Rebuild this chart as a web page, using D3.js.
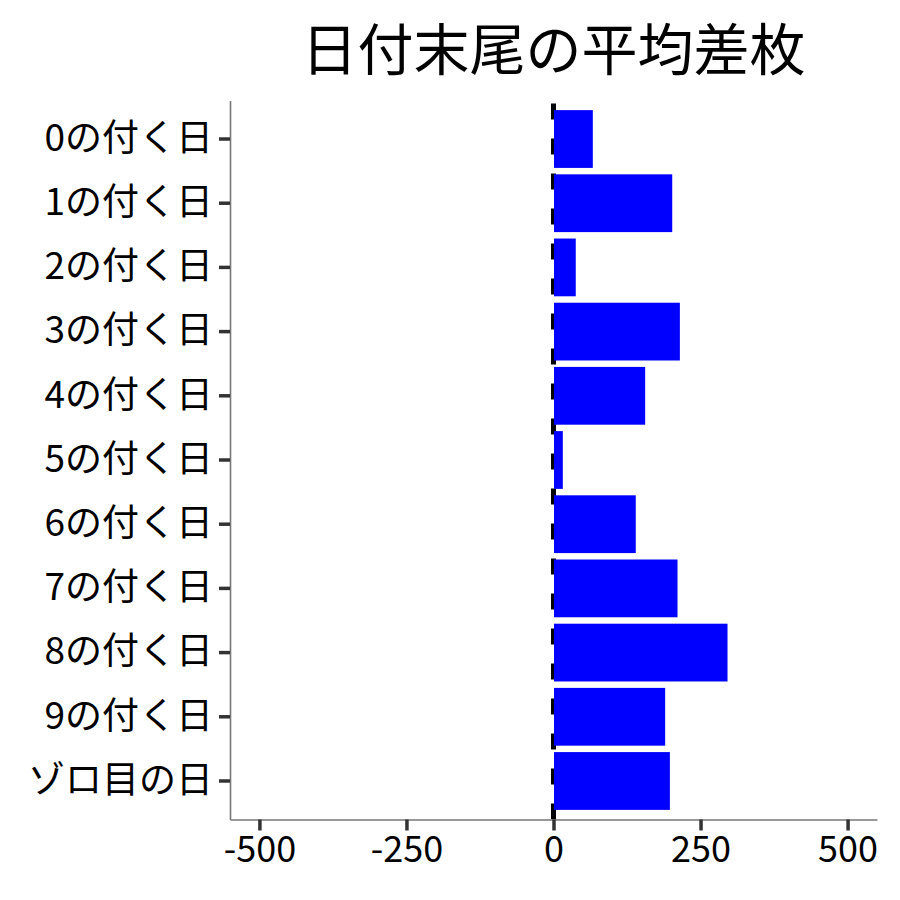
<!DOCTYPE html>
<html>
<head>
<meta charset="utf-8">
<script src="https://cdn.jsdelivr.net/npm/d3@7"></script>
<style>
  body { margin: 0; background: #fff; }
  text { font-family: "Noto Sans CJK JP", "Noto Sans", sans-serif; }
</style>
</head>
<body>
<svg width="900" height="900"></svg>
<script>
const categories = ['0の付く日', '1の付く日', '2の付く日', '3の付く日', '4の付く日',
  '5の付く日', '6の付く日', '7の付く日', '8の付く日', '9の付く日', 'ゾロ目の日']
const values = [66, 201, 37, 214, 155, 15, 139, 210, 295, 189, 197]
const xTicks = [-500, -250, 0, 250, 500]
const title = '日付末尾の平均差枚'

const data = categories.map((c, i) => ({ cat: c, value: values[i] }))

const svg = d3.select('svg')
const margin = { top: 100.5, right: 23, bottom: 80.5, left: 230 }
const width = +svg.attr('width')
const height = +svg.attr('height')

const x = d3.scaleLinear()
  .domain([-550, 550])
  .range([margin.left, width - margin.right])

const y = d3.scaleBand()
  .domain(categories)
  .range([margin.top, height - margin.bottom])
  .paddingInner(0.1)
  .paddingOuter(0.15)

// title
svg.append('text')
  .attr('x', (x.range()[0] + x.range()[1]) / 2)
  .attr('y', 70)
  .attr('text-anchor', 'middle')
  .attr('font-size', 56)
  .attr('fill', '#000')
  .text(title)

// dashed zero line, drawn before the bars
svg.append('line')
  .attr('x1', x(0)).attr('x2', x(0))
  .attr('y1', height - margin.bottom).attr('y2', margin.top)
  .attr('stroke', '#000')
  .attr('stroke-width', 5)
  .attr('stroke-dasharray', '16,19')

svg.append('g')
  .selectAll('rect')
  .data(data)
  .enter().append('rect')
    .attr('x', d => x(Math.min(0, d.value)) + 0.5)
    .attr('y', d => y(d.cat))
    .attr('width', d => Math.abs(x(d.value) - x(0)))
    .attr('height', y.bandwidth())
    .attr('fill', '#0000ff')

// x axis
const xAxis = svg.append('g')
  .attr('transform', `translate(0,${height - margin.bottom})`)
  .call(d3.axisBottom(x).tickValues(xTicks).tickFormat(d => String(d))
    .tickSize(11).tickSizeOuter(0).tickPadding(6))
xAxis.select('.domain').attr('stroke', '#777').attr('stroke-width', 1.6)
xAxis.selectAll('.tick line').attr('stroke', '#333').attr('stroke-width', 3.5)
xAxis.selectAll('.tick text')
  .attr('font-size', 36)
  .attr('fill', '#000')
  .attr('font-family', '"Noto Sans CJK JP", sans-serif')

// y axis
const yAxis = svg.append('g')
  .attr('transform', `translate(${margin.left},0)`)
  .call(d3.axisLeft(y).tickSize(11).tickSizeOuter(0).tickPadding(6))
yAxis.select('.domain').attr('stroke', '#777').attr('stroke-width', 1.6)
yAxis.selectAll('.tick line').attr('stroke', '#333').attr('stroke-width', 3.5)
yAxis.selectAll('.tick text')
  .attr('font-size', 37)
  .attr('fill', '#000')
  .attr('font-family', '"Noto Sans CJK JP", sans-serif')
</script>
</body>
</html>
